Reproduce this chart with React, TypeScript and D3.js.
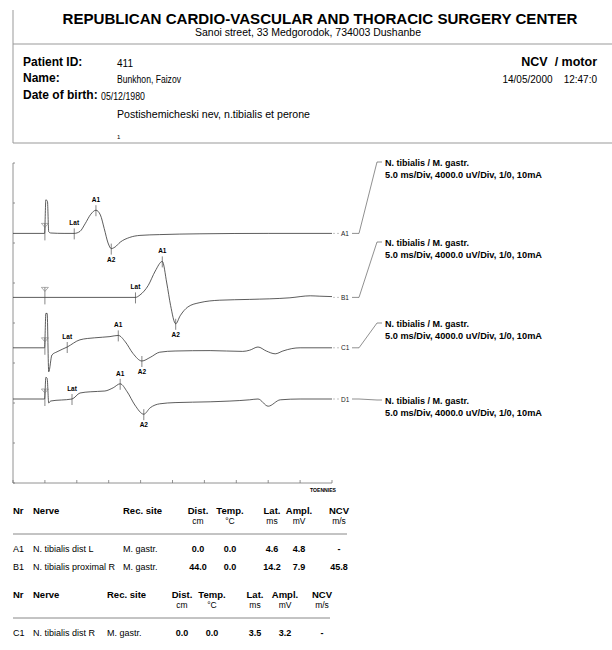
import React from "react";
import * as d3 from "d3";

const W = 612;
const H = 650;

// ---------- data ----------
const traceIds = ["A1", "B1", "C1", "D1"];
// baseline of each trace, mV above bottom of the grid (4 mV / div)
const traceBaselines = [31.2, 23.2, 16.9, 10.5];

// [time ms, amplitude mV relative to baseline]
const traceA: [number, number][] = [
  [0, 0], [4.95, 0], [5.15, 4.2], [5.4, 4.0], [5.6, 0.2], [5.9, 0.05], [8.0, 0], [9.6, 0],
  [10.5, 0.25], [11.3, 1.2], [12.2, 2.4], [13.0, 2.9], [13.7, 2.3], [14.3, 0.6], [14.9, -1.2],
  [15.4, -1.9], [16.0, -1.7], [16.8, -1.1], [18.3, -0.5], [19.9, -0.25], [23.0, -0.15],
  [29.3, -0.05], [40, 0], [50, 0.0],
];
const traceB: [number, number][] = [
  [0, 0], [19.2, 0], [19.9, 0.3], [21.2, 1.5], [22.3, 3.3], [23.4, 4.5], [24.1, 1.8],
  [24.7, -1.0], [25.5, -3.3], [26.2, -2.3], [27.4, -1.2], [29.3, -0.65], [32.4, -0.35],
  [37.1, -0.25], [43.4, -0.05], [46.6, 0.2], [48.1, 0.15], [50, 0.1],
];
const traceC: [number, number][] = [
  [0, 0], [4.95, 0], [5.15, 4.3], [5.35, 4.3], [5.6, -3.0], [6.1, -0.9], [6.9, -0.5],
  [8.5, 0.1], [10.5, 1.0], [12.8, 1.25], [15.2, 1.4], [16.5, 1.55], [17.6, 0.75], [18.8, -0.7],
  [20.2, -1.65], [21.5, -1.2], [23.0, -0.55], [25.4, -0.4], [30.9, -0.35], [36.0, -0.45],
  [37.1, -0.3], [38.4, 0.1], [39.7, -0.4], [41.1, -0.75], [42.3, -0.4], [43.7, -0.1], [45, 0], [50, 0],
];
const traceD: [number, number][] = [
  [0, 0], [4.95, 0], [5.15, 2.7], [5.35, 2.6], [5.6, -0.5], [5.9, -0.25], [9.25, 0],
  [10.5, 0.75], [12.1, 0.9], [14.4, 1.0], [15.7, 1.4], [16.8, 1.9], [17.9, 0.9], [19.1, -0.75],
  [20.5, -1.9], [21.5, -1.1], [23.0, -0.6], [25.4, -0.45], [30.9, -0.35], [37.1, -0.1],
  [38.4, 0.0], [40.0, -0.9], [41.9, -0.1], [45, 0], [50, 0],
];
const traces = [traceA, traceB, traceC, traceD];

// markers: [label, time ms, position ("up" | "down")]
const markersA: [string, number, string][] = [["Lat", 9.6, "up"], ["A1", 13.0, "up"], ["A2", 15.4, "down"]];
const markersB: [string, number, string][] = [["Lat", 19.2, "up"], ["A1", 23.4, "up"], ["A2", 25.5, "down"]];
const markersC: [string, number, string][] = [["Lat", 8.5, "up"], ["A1", 16.5, "up"], ["A2", 20.2, "down"]];
const markersD: [string, number, string][] = [["Lat", 9.25, "up"], ["A1", 16.8, "up"], ["A2", 20.5, "down"]];
const markers = [markersA, markersB, markersC, markersD];
const stimulusTime = 5;

const traceTitle = "N. tibialis / M. gastr.";
const traceSettings = "5.0 ms/Div, 4000.0 uV/Div, 1/0, 10mA";

const tableHeader = ["Nr", "Nerve", "Rec. site", "Dist.", "Temp.", "Lat.", "Ampl.", "NCV"];
const tableUnits = ["cm", "°C", "ms", "mV", "m/s"];
const table1Rows = [
  ["A1", "N. tibialis dist L", "M. gastr.", "0.0", "0.0", "4.6", "4.8", "-"],
  ["B1", "N. tibialis proximal R", "M. gastr.", "44.0", "0.0", "14.2", "7.9", "45.8"],
];
const table2Rows = [["C1", "N. tibialis dist R", "M. gastr.", "0.0", "0.0", "3.5", "3.2", "-"]];

// ---------- layout ----------
const NARROW = "'Liberation Sans Narrow', 'Arial Narrow', 'Liberation Sans', Arial, sans-serif";
const SANS = "'Liberation Sans', Arial, sans-serif";

const x = d3.scaleLinear().domain([0, 50]).range([13, 332]);
const y = d3.scaleLinear().domain([0, 40]).range([483, 163]);

function valueAt(data: [number, number][], t: number) {
  const i = d3.bisector((d: [number, number]) => d[0]).left(data, t);
  if (i <= 0) return data[0][1];
  if (i >= data.length) return data[data.length - 1][1];
  const a = data[i - 1], b = data[i];
  return a[1] + ((t - a[0]) / (b[0] - a[0])) * (b[1] - a[1]);
}

function Table({ top, cols, rows }: { top: number; cols: number[]; rows: string[][] }) {
  const lineEnd = cols[7] + 8;
  return (
    <g>
      {tableHeader.map((h, i) => (
        <text key={h} x={cols[i]} y={top} fontFamily={NARROW} fontWeight="bold" fontSize={9.5}
          textAnchor={i < 3 ? "start" : "middle"}>{h}</text>
      ))}
      {tableUnits.map((u, i) => (
        <text key={u} x={cols[i + 3]} y={top + 10} fontFamily={NARROW} fontSize={8.5} textAnchor="middle">{u}</text>
      ))}
      <line x1={13} x2={lineEnd} y1={top + 20} y2={top + 20} stroke="#888" strokeWidth={1} />
      {rows.map((r, ri) => (
        <g key={ri}>
          {r.map((c, ci) => (
            <text key={ci} x={cols[ci]} y={top + 38 + ri * 18} fontFamily={NARROW}
              fontSize={9} fontWeight={ci >= 3 ? "bold" : "normal"}
              textAnchor={ci < 3 ? "start" : "middle"}>{c}</text>
          ))}
        </g>
      ))}
    </g>
  );
}

export default function App() {
  const line = d3.line<[number, number]>().curve(d3.curveMonotoneX);
  const labelY = [164, 244, 325, 402];
  return (
    <svg width={W} height={H} style={{ position: "absolute", left: 0, top: 0, background: "#fff" }}>
      <rect width={W} height={H} fill="#fff" />
      {/* header box */}
      <line x1={13} x2={13} y1={10} y2={143} stroke="#999" />
      <line x1={13} x2={612} y1={44} y2={44} stroke="#999" />
      <line x1={13} x2={612} y1={143} y2={143} stroke="#999" />
      <text x={320} y={24} textAnchor="middle" fontFamily={SANS} fontWeight="bold" fontSize={15}
        textLength={515} lengthAdjust="spacingAndGlyphs">REPUBLICAN CARDIO-VASCULAR AND THORACIC SURGERY CENTER</text>
      <text x={308} y={36} textAnchor="middle" fontFamily={NARROW} fontSize={10}
        textLength={226} lengthAdjust="spacingAndGlyphs">Sanoi street, 33 Medgorodok,  734003 Dushanbe</text>
      <text x={23} y={66} fontFamily={SANS} fontWeight="bold" fontSize={12}>Patient ID:</text>
      <text x={23} y={82} fontFamily={SANS} fontWeight="bold" fontSize={12}>Name:</text>
      <text x={23} y={99} fontFamily={SANS} fontWeight="bold" fontSize={12}>Date of birth:</text>
      <text x={117} y={67} fontFamily={NARROW} fontSize={10}>411</text>
      <text x={117} y={83} fontFamily={NARROW} fontSize={10} textLength={64} lengthAdjust="spacingAndGlyphs">Bunkhon, Faizov</text>
      <text x={101} y={100} fontFamily={NARROW} fontSize={10} textLength={44} lengthAdjust="spacingAndGlyphs">05/12/1980</text>
      <text x={117} y={118} fontFamily={NARROW} fontSize={10} textLength={193} lengthAdjust="spacingAndGlyphs">Postishemicheski nev, n.tibialis et perone</text>
      <text x={117} y={139} fontFamily={NARROW} fontSize={6}>1</text>
      <text x={597} y={66} textAnchor="end" fontFamily={SANS} fontWeight="bold" fontSize={12.5} xmlSpace="preserve">NCV  / motor</text>
      <text x={597} y={83} textAnchor="end" fontFamily={NARROW} fontSize={10} xmlSpace="preserve">14/05/2000    12:47:0</text>

      {/* axes */}
      <line x1={x(0)} x2={x(0)} y1={y(0)} y2={y(40)} stroke="#777" strokeWidth={0.8} />
      <line x1={x(0)} x2={x(50)} y1={y(0)} y2={y(0)} stroke="#777" strokeWidth={0.8} />
      {y.ticks(10).map((v) => (
        <line key={"yt" + v} x1={x(0)} x2={x(0) + 2} y1={y(v)} y2={y(v)} stroke="#777" strokeWidth={0.8} />
      ))}
      {x.ticks(10).map((v) => (
        <line key={"xt" + v} x1={x(v)} x2={x(v)} y1={y(0)} y2={y(0) - 3} stroke="#777" strokeWidth={0.8} />
      ))}
      <text x={323} y={492} textAnchor="middle" fontFamily={SANS} fontWeight="bold" fontSize={5}
        textLength={26} lengthAdjust="spacingAndGlyphs">TOENNIES</text>

      {traces.map((tr, i) => {
        const base = traceBaselines[i];
        const pts = tr.map(([t, v]) => [x(t), y(base + v)] as [number, number]);
        const by = y(base);
        const sx = x(stimulusTime);
        const ly = labelY[i];
        return (
          <g key={traceIds[i]}>
            <path d={line(pts) || ""} fill="none" stroke="#333" strokeWidth={0.8} />
            {/* stimulus marker */}
            <line x1={sx} x2={sx} y1={by - 10} y2={by + 7} stroke="#555" strokeWidth={0.7} />
            <path d={`M${sx - 3.5},${by - 10} L${sx + 3.5},${by - 10} L${sx},${by - 6} Z`} fill="none" stroke="#777" strokeWidth={0.6} />
            {markers[i].map(([lab, t, pos]) => {
              const mx = x(t);
              const my = y(base + valueAt(tr, t));
              return (
                <g key={lab}>
                  <line x1={mx} x2={mx} y1={my - 5} y2={my + 6} stroke="#333" strokeWidth={0.6} />
                  <text x={mx} y={pos === "up" ? my - 8 : my + 13} textAnchor="middle" fontFamily={SANS}
                    fontWeight="bold" fontSize={6.5}>{lab}</text>
                </g>
              );
            })}
            {/* right side legend */}
            <line x1={x(50) + 1} x2={x(50) + 8} y1={by} y2={by} stroke="#aaa" strokeWidth={0.7} strokeDasharray="2,2" />
            <text x={341} y={by + 2.5} fontFamily={SANS} fontSize={6.5} fill="#222">{traceIds[i]}</text>
            <path d={`M352,${by} L359,${by} L377,${ly - 2} L382,${ly - 2}`} fill="none" stroke="#444" strokeWidth={0.6} />
            <text x={385} y={ly + 2} fontFamily={NARROW} fontWeight="bold" fontSize={9}>{traceTitle}</text>
            <text x={385} y={ly + 14} fontFamily={NARROW} fontWeight="bold" fontSize={9}
              textLength={157} lengthAdjust="spacingAndGlyphs">{traceSettings}</text>
          </g>
        );
      })}

      <Table top={514} cols={[13, 33, 123, 198, 230, 272, 299, 339]} rows={table1Rows} />
      <Table top={598} cols={[13, 33, 107, 182, 212, 255, 285, 322]} rows={table2Rows} />
    </svg>
  );
}
